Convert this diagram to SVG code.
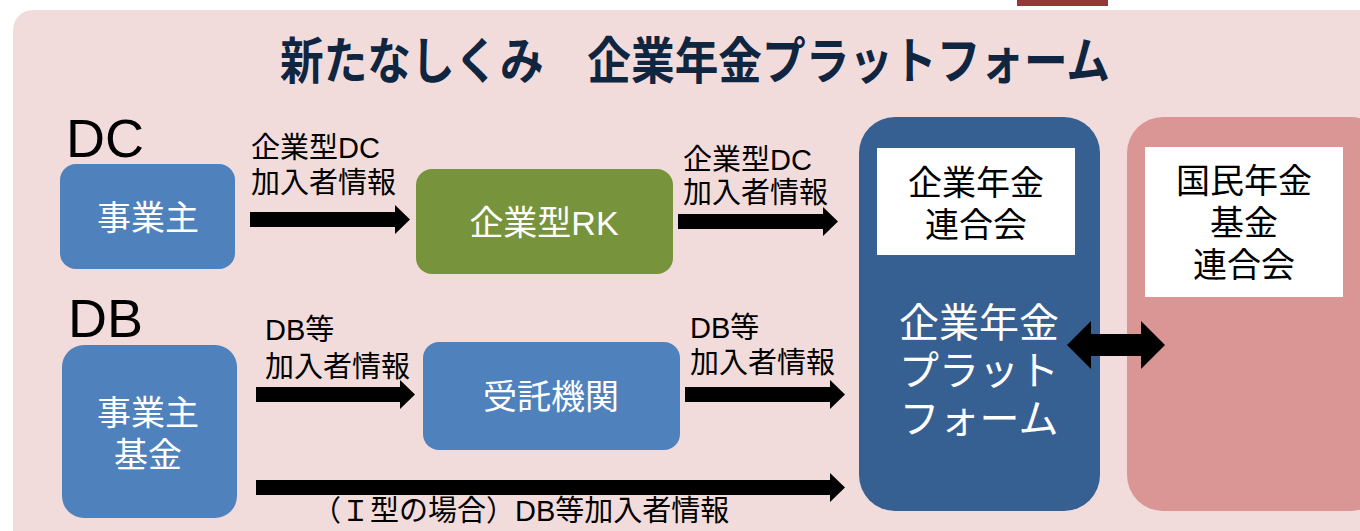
<svg xmlns="http://www.w3.org/2000/svg" width="1360" height="531" viewBox="0 0 1360 531">
<style>
text{font-family:"Liberation Sans","Noto Sans CJK JP",sans-serif;}
.lbl{font-size:29px;fill:#000;}
.wt{fill:#fff;font-size:34px;text-anchor:middle;}
.bk{fill:#000;font-size:34px;text-anchor:middle;}
.plat{fill:#fff;font-size:40px;text-anchor:middle;}
.big{font-size:54px;fill:#000;}
.blue{fill:#4F81BD;}
.arr{fill:#000;}
</style>
<rect x="0" y="0" width="1360" height="531" fill="#fff"/>
<rect x="1017" y="0" width="91" height="6" fill="#953735"/>
<rect x="13" y="10" width="1380" height="560" rx="20" fill="#F2DCDB"/>
<g id="title">
<text x="280" y="79" font-size="50" font-weight="bold" fill="#10253F" textLength="830" lengthAdjust="spacingAndGlyphs">新たなしくみ　企業年金プラットフォーム</text>
</g>
<g id="label-dc"><text class="big" x="66" y="157">DC</text></g>
<g id="label-db"><text class="big" x="68" y="337">DB</text></g>
<g id="dc-employer">
<rect class="blue" x="60" y="164" width="175" height="105" rx="16"/>
<text class="wt" x="148" y="230">事業主</text>
</g>
<g id="dc-rk">
<rect x="416" y="169" width="257" height="105" rx="16" fill="#77933C"/>
<text class="wt" x="544" y="235">企業型RK</text>
</g>
<g id="db-employer">
<rect class="blue" x="62" y="345" width="175" height="173" rx="22"/>
<text class="wt" x="148" y="425">事業主<tspan x="148" dy="42">基金</tspan></text>
</g>
<g id="trustee">
<rect class="blue" x="423" y="342" width="257" height="108" rx="16"/>
<text class="wt" x="551" y="409">受託機関</text>
</g>
<g id="platform">
<rect x="859" y="117" width="241" height="394" rx="36" fill="#376092"/>
<rect x="877" y="148" width="198" height="107" fill="#fff"/>
<text class="bk" x="976" y="195">企業年金<tspan x="976" dy="42">連合会</tspan></text>
<text class="plat" x="979" y="337">企業年金<tspan x="979" dy="48">プラット</tspan><tspan x="979" dy="48">フォーム</tspan></text>
</g>
<g id="national">
<rect x="1127" y="117" width="260" height="394" rx="36" fill="#D99694"/>
<rect x="1145" y="147" width="198" height="150" fill="#fff"/>
<text class="bk" x="1244" y="193">国民年金<tspan x="1244" dy="42">基金</tspan><tspan x="1244" dy="42">連合会</tspan></text>
</g>
<g id="connectors">
<path class="arr" d="M250,212 H395 V205 L410,219.5 L395,234 V227 H250 Z"/>
<path class="arr" d="M678,214 H823 V207 L838,221.5 L823,236 V229 H678 Z"/>
<path class="arr" d="M256,387 H400 V380 L415,394.5 L400,409 V402 H256 Z"/>
<path class="arr" d="M685,387 H830 V380 L845,394.5 L830,409 V402 H685 Z"/>
<path class="arr" d="M256,480 H830 V473 L845,487.5 L830,502 V495 H256 Z"/>
<path class="arr" d="M1067,345 L1091,321 V334 H1141 V321 L1165,345 L1141,369 V356 H1091 V369 Z"/>
</g>
<g id="labels">
<text class="lbl" x="251" y="158">企業型DC<tspan x="251" dy="35">加入者情報</tspan></text>
<text class="lbl" x="683" y="170">企業型DC<tspan x="683" dy="33">加入者情報</tspan></text>
<text class="lbl" x="265" y="340">DB等<tspan x="265" dy="37">加入者情報</tspan></text>
<text class="lbl" x="690" y="338">DB等<tspan x="690" dy="35">加入者情報</tspan></text>
<text class="lbl" x="312" y="521">（Ｉ型の場合）DB等加入者情報</text>
</g>
</svg>
